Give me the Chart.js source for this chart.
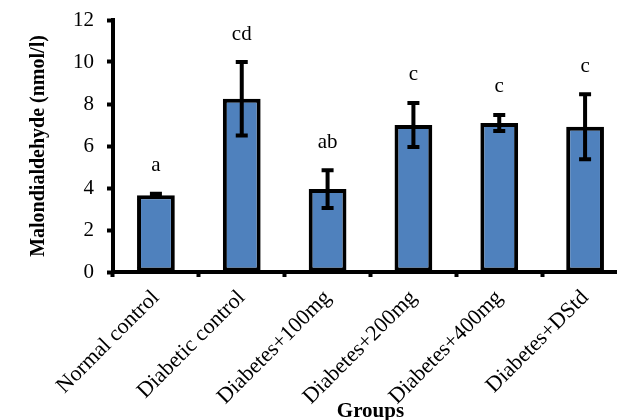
<!DOCTYPE html>
<html>
<head>
<meta charset="utf-8">
<script src="https://cdn.jsdelivr.net/npm/chart.js@4/dist/chart.umd.min.js"></script>
<style>
  html, body { margin: 0; padding: 0; background: #fff; overflow: hidden; }
  #wrap { position: absolute; left: 0; top: 0; width: 617px; height: 420px; overflow: hidden; }
</style>
</head>
<body>
<div id="wrap"><canvas id="myChart" width="628" height="420"></canvas></div>
<script>
const groups = ["Normal control", "Diabetic control", "Diabetes+100mg", "Diabetes+200mg", "Diabetes+400mg", "Diabetes+DStd"];
const mda = [3.65, 8.25, 3.95, 7.0, 7.1, 6.92];
const sem = [0.08, 1.75, 0.9, 1.05, 0.38, 1.55];
const letters = ["a", "cd", "ab", "c", "c", "c"];
const yTicks = [0, 2, 4, 6, 8, 10, 12];

const serif = "'Liberation Serif', 'Times New Roman', serif";

// error bars + significance letters on top of bars
const errorBars = {
  id: "errorBars",
  afterDatasetsDraw(chart) {
    const { ctx, scales: { x, y } } = chart;
    ctx.save();
    ctx.strokeStyle = "#000";
    ctx.lineWidth = 4;
    ctx.fillStyle = "#000";
    ctx.font = "21px " + serif;
    ctx.textAlign = "center";
    ctx.textBaseline = "middle";
    mda.forEach((v, i) => {
      const px = x.getPixelForValue(i);
      const top = y.getPixelForValue(v + sem[i]);
      const bot = y.getPixelForValue(v - sem[i]);
      ctx.beginPath();
      ctx.moveTo(px, top); ctx.lineTo(px, bot);
      ctx.moveTo(px - 6, top); ctx.lineTo(px + 6, top);
      ctx.moveTo(px - 6, bot); ctx.lineTo(px + 6, bot);
      ctx.stroke();
      ctx.fillText(letters[i], px, top - 28);
    });
    ctx.restore();
  }
};

const ctx = document.querySelector("#myChart");

const myChart = new Chart(ctx, {
  type: "bar",
  data: {
    labels: groups,
    datasets: [
      {
        data: mda,
        backgroundColor: "#4F81BD",
        borderColor: "#000",
        borderWidth: 4,
        borderSkipped: false,
        barPercentage: 0.44,
        categoryPercentage: 1,
      },
    ],
  },
  options: {
    responsive: false,
    animation: false,
    layout: { padding: { top: 20, right: 0, left: 0, bottom: 0 } },
    plugins: {
      legend: { display: false },
      tooltip: { enabled: false },
    },
    scales: {
      x: {
        offset: true,
        grid: {
          display: true,
          offset: true,
          drawOnChartArea: false,
          drawTicks: true,
          tickLength: 5,
          tickWidth: 4,
          color: "#000",
        },
        border: { display: true, color: "#000", width: 4 },
        ticks: {
          color: "#000",
          font: { family: serif, size: 22 },
          minRotation: 45,
          maxRotation: 45,
          padding: 8,
        },
        title: {
          display: true,
          text: "Groups",
          color: "#000",
          font: { family: serif, size: 21, weight: "bold" },
          padding: { top: 0, bottom: -4 },
        },
        afterFit(scale) { scale.height = 148; },
      },
      y: {
        min: 0,
        max: 12,
        afterBuildTicks(scale) { scale.ticks = yTicks.map(v => ({ value: v })); },
        grid: {
          display: true,
          drawOnChartArea: false,
          drawTicks: true,
          tickLength: 6,
          tickWidth: 4,
          color: "#000",
        },
        border: { display: true, color: "#000", width: 4 },
        ticks: {
          color: "#000",
          font: { family: serif, size: 21 },
          padding: 13,
        },
        title: {
          display: true,
          text: "Malondialdehyde (nmol/l)",
          color: "#000",
          font: { family: serif, size: 20, weight: "bold" },
          padding: { top: 27, bottom: 0 },
        },
        afterFit(scale) {
          scale.width = 113;
          scale.paddingTop = 0;
          scale.paddingBottom = 0;
        },
      },
    },
  },
  plugins: [errorBars],
});
</script>
</body>
</html>
